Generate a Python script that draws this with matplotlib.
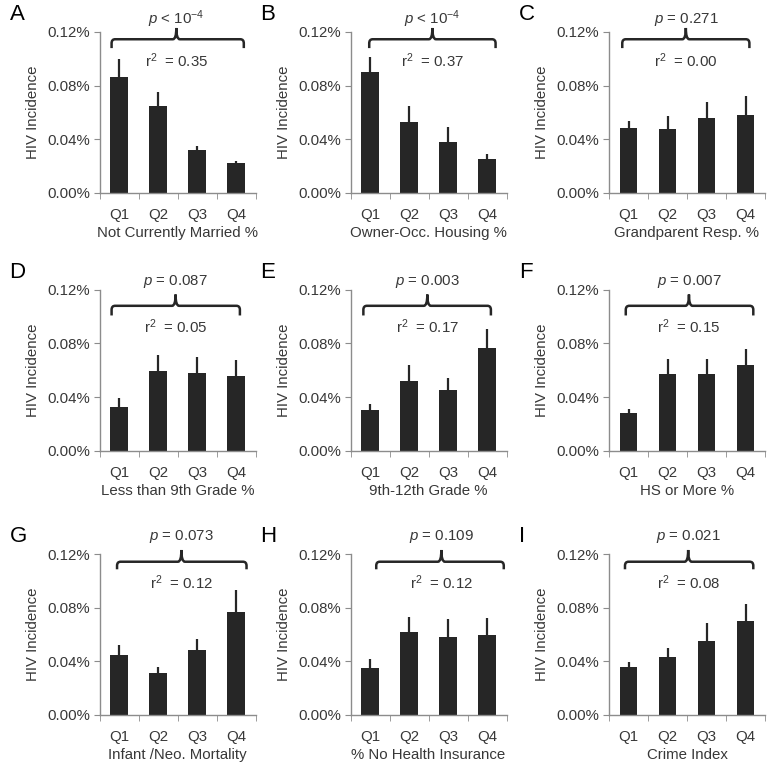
import numpy as np
import matplotlib
matplotlib.use("Agg")
import matplotlib.pyplot as plt
from matplotlib.path import Path
from matplotlib.patches import PathPatch
import matplotlib.transforms as mtransforms
from matplotlib.ticker import FuncFormatter

plt.rcParams['font.family'] = ['Liberation Sans', 'DejaVu Sans']
plt.rcParams['mathtext.fontset'] = 'custom'
plt.rcParams['mathtext.rm'] = 'Liberation Sans'
plt.rcParams['mathtext.it'] = 'Liberation Sans:italic'

quartiles = ["Q1", "Q2", "Q3", "Q4"]
letters = ["A", "B", "C", "D", "E", "F", "G", "H", "I"]
xlabels = ["Not Currently Married %", "Owner-Occ. Housing %", "Grandparent Resp. %",
           "Less than 9th Grade %", "9th-12th Grade %", "HS or More %",
           "Infant /Neo. Mortality", "% No Health Insurance", "Crime Index"]
p_texts = [r"$\it{p}$ < 10$^{-4}$", r"$\it{p}$ < 10$^{-4}$", r"$\it{p}$ = 0.271",
           r"$\it{p}$ = 0.087", r"$\it{p}$ = 0.003", r"$\it{p}$ = 0.007",
           r"$\it{p}$ = 0.073", r"$\it{p}$ = 0.109", r"$\it{p}$ = 0.021"]
r2_values = ["0.35", "0.37", "0.00", "0.05", "0.17", "0.15", "0.12", "0.12", "0.08"]

# mean HIV incidence (%) per quartile
means = [
    [0.0862, 0.0648, 0.0320, 0.0224],
    [0.0902, 0.0527, 0.0378, 0.0253],
    [0.0485, 0.0474, 0.0562, 0.0585],
    [0.0328, 0.0591, 0.0581, 0.0559],
    [0.0306, 0.0517, 0.0450, 0.0765],
    [0.0278, 0.0574, 0.0569, 0.0641],
    [0.0446, 0.0316, 0.0483, 0.0769],
    [0.0349, 0.0622, 0.0578, 0.0598],
    [0.0356, 0.0433, 0.0548, 0.0700],
]
# upper error bar top
err_tops = [
    [0.1001, 0.0753, 0.0350, 0.0241],
    [0.1016, 0.0648, 0.0492, 0.0288],
    [0.0535, 0.0577, 0.0680, 0.0720],
    [0.0390, 0.0716, 0.0696, 0.0676],
    [0.0350, 0.0641, 0.0539, 0.0909],
    [0.0313, 0.0686, 0.0686, 0.0760],
    [0.0520, 0.0356, 0.0570, 0.0929],
    [0.0416, 0.0734, 0.0712, 0.0722],
    [0.0396, 0.0503, 0.0685, 0.0827],
]
# bracket extents (x in category units)
bracket_x = [(0.31, 3.7, 1.97), (0.48, 3.72, 2.1), (0.34, 3.6, 1.97),
             (0.31, 3.6, 1.95), (0.33, 3.6, 1.97), (0.43, 3.7, 2.05),
             (0.45, 3.77, 2.1), (0.66, 3.93, 2.33), (0.41, 3.7, 2.03)]
# per-row vertical layout in axes fraction: line, end, peak, p text, r2 text
row_y = [(0.955, 0.90, 1.025, 1.08, 0.82),
         (0.90, 0.84, 0.97, 1.05, 0.77),
         (0.952, 0.905, 1.025, 1.11, 0.82)]

W, H = 771, 770
col_left = [99.5, 350.5, 609]
row_top = [32, 289.7, 554]
ax_w, ax_h = 156, 161

bar_color = "#262626"
axis_color = "#8c8c8c"
text_color = "#383838"
fs = 10.8

fig = plt.figure(figsize=(W / 100, H / 100), dpi=100)

for i in range(9):
    r, c = divmod(i, 3)
    ax = fig.add_axes([col_left[c] / W, 1 - (row_top[r] + ax_h) / H, ax_w / W, ax_h / H])
    x = np.arange(4) + 0.5
    m = np.array(means[i])
    e = np.array(err_tops[i]) - m
    ax.bar(x, m, width=0.45, color=bar_color, zorder=2)
    ax.errorbar(x, m, yerr=[np.zeros(4), e], fmt="none", ecolor=bar_color,
                elinewidth=1.6, capsize=0, zorder=3)
    ax.set_xlim(0, 4)
    ax.set_ylim(0, 0.12)
    ax.set_yticks([0, 0.04, 0.08, 0.12])
    ax.yaxis.set_major_formatter(FuncFormatter(lambda v, pos: "%.2f%%" % v))
    ax.set_xticks(x)
    ax.set_xticklabels(quartiles)
    ax.set_xticks(np.arange(5), minor=True)
    ax.tick_params(axis="x", which="major", length=0, pad=11, labelsize=fs, labelcolor=text_color)
    ax.tick_params(axis="x", which="minor", length=4, color=axis_color, direction="out")
    ax.tick_params(axis="y", length=4, color=axis_color, labelsize=fs, labelcolor=text_color, pad=3)
    for s in ["top", "right"]:
        ax.spines[s].set_visible(False)
    for s in ["left", "bottom"]:
        ax.spines[s].set_color(axis_color)
        ax.spines[s].set_linewidth(1.0)
    ax.set_ylabel("HIV Incidence", fontsize=fs, color=text_color, labelpad=5)
    ax.set_xlabel(xlabels[i], fontsize=fs, color=text_color, labelpad=3)

    # bracket
    yl, yb, yp, ypt, yr2 = row_y[r]
    x0, x1, xc = bracket_x[i]
    dx, ry = 0.09, 0.025
    verts = [(x0, yb), (x0, yl - ry), (x0, yl), (x0 + dx, yl),
             (xc - dx, yl), (xc, yl), (xc, yp),
             (xc, yl), (xc + dx, yl), (x1 - dx, yl),
             (x1, yl), (x1, yl - ry), (x1, yb)]
    codes = [Path.MOVETO, Path.LINETO, Path.CURVE3, Path.CURVE3,
             Path.LINETO, Path.CURVE3, Path.CURVE3,
             Path.CURVE3, Path.CURVE3, Path.LINETO,
             Path.CURVE3, Path.CURVE3, Path.LINETO]
    trans = mtransforms.blended_transform_factory(ax.transData, ax.transAxes)
    ax.add_patch(PathPatch(Path(verts, codes), transform=trans, fill=False,
                           edgecolor=bar_color, linewidth=1.8, clip_on=False, zorder=4))
    ax.text(xc, ypt, p_texts[i], transform=trans, ha="center", va="center",
            fontsize=fs, color=text_color)
    ax.text(xc, yr2, r"r$^2$  = " + r2_values[i], transform=trans, ha="center",
            va="center", fontsize=fs, color=text_color)

    # panel letter
    fig.text((col_left[c] - 90) / W, 1 - (row_top[r] - 17) / H, letters[i],
             fontsize=16, color="black", ha="left", va="center")

fig.savefig("out.png", dpi=100, facecolor="white")
